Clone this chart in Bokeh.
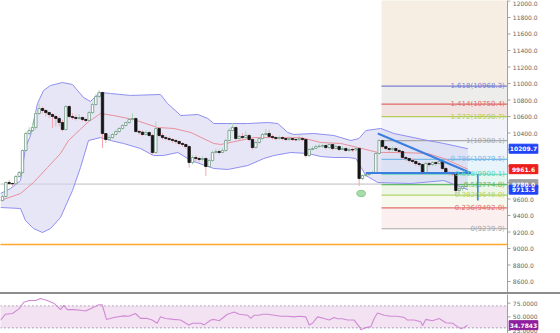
from bokeh.plotting import figure
from bokeh.models import Range1d, Div
from bokeh.layouts import column
from bokeh.embed import file_html
from bokeh.resources import INLINE
from bokeh.core.properties import value

# ---------------- data ----------------
first_open = 9582
closes = [9630, 9800, 9788, 9785, 9873, 9921, 10188, 10394, 10430, 10467,
          10636, 10697, 10673, 10648, 10624, 10600, 10576, 10527, 10442, 10721,
          10600, 10588, 10576, 10588, 10564, 10552, 10648, 10745, 10842, 10891,
          10394, 10321, 10345, 10382, 10418, 10455, 10491, 10527, 10564, 10576,
          10418, 10410, 10382, 10406, 10370, 10164, 10455, 10370, 10345, 10333,
          10321, 10309, 10297, 10273, 10261, 10236, 10042, 10103, 10091, 10079,
          10091, 9994, 10067, 10164, 10176, 10164, 10188, 10309, 10430, 10467,
          10333, 10358, 10345, 10370, 10321, 10224, 10285, 10333, 10382, 10394,
          10358, 10345, 10333, 10345, 10333, 10321, 10333, 10321, 10318, 10333,
          10321, 10127, 10200, 10212, 10236, 10240, 10248, 10224, 10261, 10212,
          10236, 10200, 10212, 10188, 10200, 10195, 10212, 9848, 9885, 9897,
          9909, 9921, 10152, 10309, 10236, 10212, 10200, 10212, 10188, 10176,
          10103, 10091, 10067, 10055, 10030, 10018, 9909, 10030, 10018, 10042,
          10030, 10055, 9970, 9921, 9909, 9905, 9703, 9727, 9752, 9780]
highs = [9650, 9815, 9830, 9800, 9890, 9940, 10200, 10420, 10470, 10520,
         10660, 10760, 10720, 10690, 10660, 10640, 10620, 10600, 10560, 10740,
         10740, 10640, 10620, 10630, 10600, 10580, 10670, 10770, 10870, 10920,
         10900, 10400, 10380, 10400, 10440, 10470, 10510, 10540, 10580, 10640,
         10590, 10440, 10430, 10430, 10420, 10390, 10540, 10470, 10400, 10370,
         10360, 10340, 10330, 10310, 10290, 10270, 10250, 10130, 10130, 10110,
         10120, 10110, 10090, 10190, 10210, 10200, 10220, 10330, 10460, 10520,
         10480, 10380, 10400, 10420, 10390, 10340, 10300, 10350, 10400, 10450,
         10440, 10380, 10360, 10370, 10360, 10350, 10360, 10350, 10350, 10390,
         10350, 10340, 10220, 10240, 10260, 10270, 10270, 10260, 10290, 10270,
         10260, 10250, 10240, 10230, 10220, 10220, 10240, 10230, 9900, 9920,
         9930, 9940, 10170, 10330, 10320, 10250, 10230, 10240, 10230, 10210,
         10190, 10120, 10100, 10090, 10070, 10050, 10030, 10050, 10050, 10060,
         10060, 10090, 10070, 9990, 9940, 9930, 9920, 9750, 9770, 9800]
lows = [9570, 9620, 9770, 9760, 9775, 9860, 9905, 10170, 10360, 10410,
        10440, 10620, 10640, 10600, 10580, 10460, 10480, 10480, 10420, 10430,
        10580, 10560, 10550, 10560, 10540, 10530, 10540, 10630, 10730, 10830,
        10220, 10280, 10300, 10330, 10370, 10400, 10440, 10480, 10510, 10550,
        10400, 10380, 10360, 10370, 10350, 10140, 10150, 10350, 10320, 10310,
        10300, 10280, 10270, 10250, 10230, 10210, 9980, 10020, 10060, 10050,
        10060, 9880, 9980, 10050, 10150, 10140, 10160, 10170, 10300, 10420,
        10310, 10320, 10320, 10340, 10300, 10200, 10210, 10270, 10320, 10370,
        10340, 10320, 10310, 10320, 10310, 10300, 10300, 10300, 10300, 10300,
        10300, 10100, 10110, 10190, 10210, 10220, 10220, 10200, 10210, 10190,
        10200, 10180, 10190, 10170, 10170, 10170, 10190, 9760, 9830, 9870,
        9880, 9900, 9910, 10140, 10210, 10190, 10170, 10180, 10160, 10150,
        10080, 10060, 10040, 10030, 10000, 9990, 9890, 9890, 9990, 10000,
        10000, 10020, 9950, 9900, 9880, 9880, 9640, 9640, 9700, 9740]
opens = [first_open] + closes[:-1]
idx = list(range(len(closes)))
assert len(closes) == len(highs) == len(lows)

# Bollinger bands (candle index, price)
bb_upper_x = [-0.6, 2.4, 5.4, 6.9, 8.4, 10.5, 12.3, 14.4, 18.0, 21.0, 24.3, 26.4, 27.9, 29.4,
              32.4, 38.4, 47.4, 49.5, 53.5, 58.6, 61.6, 63.4, 67.6, 73.6, 79.6, 82.6, 85.6,
              87.4, 93.4, 99.4, 104.5, 106.9, 109.0, 113.5, 117.4, 127.6, 132.4, 139.6]
bb_upper = [9667, 9727, 9824, 10224, 10370, 10758, 10915, 10976, 11012, 10988, 10830, 10782,
            10842, 10891, 10879, 10855, 10867, 10758, 10612, 10624, 10576, 10515, 10515, 10515,
            10527, 10515, 10406, 10382, 10394, 10370, 10309, 10333, 10430, 10455, 10394, 10309,
            10273, 10209.7]
bb_mid_x = [-0.6, 5.4, 9.3, 13.5, 17.4, 19.8, 25.5, 29.4, 33.3, 39.3, 46.5, 51.4, 56.5,
            63.4, 65.5, 75.4, 83.5, 89.5, 95.5, 101.5, 106.6, 112.6, 119.5, 127.6, 132.4, 139.6]
bb_mid = [9582, 9667, 9800, 9982, 10152, 10309, 10527, 10636, 10612, 10564, 10467, 10455,
          10406, 10273, 10261, 10345, 10345, 10345, 10285, 10273, 10224, 10164, 10164, 10152,
          10091, 9961.6]
bb_lower_x = [-0.6, 5.4, 6.9, 9.3, 12.0, 14.4, 17.4, 21.0, 23.4, 25.8, 29.4, 32.4, 36.3, 41.4,
              45.3, 48.3, 52.6, 56.5, 63.4, 67.6, 73.6, 78.4, 81.4, 86.5, 91.6, 95.5, 99.4,
              103.6, 106.0, 109.0, 112.6, 122.5, 132.4, 139.6]
bb_lower = [9497, 9485, 9339, 9242, 9194, 9242, 9376, 9703, 9982, 10309, 10345, 10309, 10273,
            10212, 10127, 10127, 10164, 10067, 9970, 9958, 10006, 10091, 10127, 10164, 10152,
            10115, 10103, 10103, 10091, 9885, 9800, 9788, 9824, 9713.5]
assert len(bb_upper_x) == len(bb_upper) and len(bb_mid_x) == len(bb_mid) and len(bb_lower_x) == len(bb_lower)

# RSI
rsi_x = [-0.6, 0.9, 3, 5, 6.4, 8, 10, 11.4, 13.4, 15.4, 17.4, 18.4, 19.4, 21.4, 23.4, 24.9,
         26.4, 28.9, 29.9, 31.2, 33.4, 36.4, 37.9, 39.9, 41.4, 43.4, 44.9, 46.4, 47.4, 48.9,
         51.4, 53.4, 55.9, 57, 59.5, 60.5, 62.5, 63.5, 65, 67.5, 69.5, 71, 73.5, 74.5, 75.5,
         77, 78, 79.5, 81.5, 83.5, 85.5, 87.5, 89, 91, 92, 93, 94.5, 96.5, 98, 99.5, 100.5,
         102, 103.5, 105.5, 107, 107.5, 108.5, 110.5, 111.5, 112.5, 114.5, 116.5, 118.5,
         120.5, 121.5, 123.5, 125.5, 126, 127, 129, 131, 133, 135, 136.5, 137.5, 138.5, 139.5]
rsi = [44.1, 54.8, 56.1, 65, 76.8, 79.8, 79.8, 83.4, 79.8, 75, 63.2, 70.9, 63.2, 63.2, 62,
       60.7, 65, 72.1, 72.1, 45.3, 48.9, 51.8, 51.2, 56.1, 47.1, 47.1, 44.1, 38.2, 50, 47.1,
       45.3, 44.1, 35.2, 38.2, 38.2, 35.2, 44.1, 45.3, 42.9, 54.8, 58.9, 54.8, 53, 47.1, 53,
       53, 54.8, 54.8, 53, 51.2, 51.2, 50, 51.2, 50, 35.2, 38.2, 50, 47.1, 44.1, 48.9, 46.4,
       46.4, 44.1, 44.1, 32.1, 26.2, 29.3, 32.1, 47.1, 57.1, 53, 51.2, 51.2, 48.9, 44.1,
       44.1, 41.1, 33.9, 45.3, 42.9, 47.1, 39.3, 38.2, 32.1, 28, 30.4, 34.7843]
assert len(rsi_x) == len(rsi)
rsi_levels = [30, 70]
rsi_ticks = [25, 50, 75]

# Fibonacci extension tool
fib_ratios = ["1.618", "1.414", "1.272", "1", "0.786", "0.618", "0.5", "0.382", "0.236", "0"]
fib_prices = [10968.3, 10750.4, 10598.7, 10308.1, 10079.5, 9900.1, 9774.8, 9648.0, 9492.0, 9239.9]
fib_line_colors = ["#7b7fd4", "#e06a6a", "#b3cc55", "#a8a8a8", "#7ab8e6", "#5fd4b4", "#62bb66",
                   "#b2d468", "#e56f6f", "#a8a8a8"]
fib_fill_colors = ["#f6eee2", "#edeeeb", "#f2e3e3", "#f2f2fa", "#eff3fa", "#e8f4fb", "#e6f6f0",
                   "#eef7e7", "#f8f9ee", "#fcefef"]
fib_start = 113.7

# other drawings
tri_x0 = [112.6, 109.0]
tri_y0 = [10394, 9915]
tri_x1 = [140.5, 140.5]
tri_y1 = [9915, 9915]
meas_x = [142.6]
meas_top = [9900]
meas_bottom = [9582]
marker_x = [107.6]
marker_y = [9667]
orange_level = 9048
price_ticks = [8600, 8800, 9000, 9200, 9400, 9600, 9800, 10000, 10200, 10400, 10600,
               10800, 11000, 11200, 11400, 11600, 11800, 12000]

# ---------------- geometry / style ----------------
X_START = -0.6
AXIS_X = 151.5          # right edge of the plotting area (price scale starts here)
X_FULL_END = 167.4      # right edge of the window
Y_BOTTOM, Y_TOP = 8467, 12006
FONT = "DejaVu Sans"
AXIS_COLOR = "#a0a0a0"
TICK_LEN = 0.9
LABEL_GAP = 1.6
TAG_CX = 4.8
TAG_W = 8.6


def price_scale(fig, ticks, labels, y_lo, y_hi):
    """Draw the right-hand price scale with glyphs (labels are real text)."""
    fig.quad(left=AXIS_X, right=X_FULL_END + 5, bottom=y_lo - 1000, top=y_hi + 1000,
             fill_color="white", line_color=None)
    fig.segment(x0=[AXIS_X], x1=[AXIS_X], y0=[y_lo - 1000], y1=[y_hi + 1000],
                line_color=AXIS_COLOR, line_width=1)
    fig.segment(x0=AXIS_X, x1=AXIS_X + TICK_LEN, y0=ticks, y1=ticks,
                line_color=AXIS_COLOR, line_width=1)
    # keep a label that sits on the top edge fully inside the window
    offs = [3 if (y_hi - t) < 0.01 * (y_hi - y_lo) else 0 for t in ticks]
    fig.text(x=[AXIS_X + LABEL_GAP] * len(ticks), y=ticks, text=labels, text_color="#666666",
             text_font_size="6px", text_align="left", text_baseline="middle",
             y_offset=offs, text_font=value(FONT))


def tags(fig, ys, texts, colors):
    fig.rect(x=[AXIS_X + TAG_CX] * len(ys), y=ys, width=TAG_W, height=9, height_units="screen",
             fill_color=colors, line_color=colors)
    fig.text(x=[AXIS_X + TAG_CX] * len(ys), y=ys, text=texts, text_color="white",
             text_font_size="6px", text_align="center", text_baseline="middle",
             text_font_style="bold", text_font=value(FONT))


def bare_figure(h, y_lo, y_hi, x_range=None):
    f = figure(width=560, height=h,
               x_range=x_range if x_range is not None else Range1d(X_START, X_FULL_END),
               y_range=Range1d(y_lo, y_hi), output_backend="svg", toolbar_location=None,
               x_axis_location=None, y_axis_location=None, min_border=0,
               background_fill_color="white", border_fill_color="white")
    f.outline_line_color = None
    f.xgrid.visible = False
    f.ygrid.visible = False
    return f


# ---------------- main price chart ----------------
p = bare_figure(292, Y_BOTTOM, Y_TOP)

# fib fills
fill_tops = [Y_TOP + 500] + fib_prices[:-1]
p.quad(left=fib_start, right=AXIS_X, bottom=fib_prices, top=fill_tops,
       fill_color=fib_fill_colors, line_color=None)

# horizontal reference lines
p.segment(x0=[X_START - 1], x1=[AXIS_X], y0=[orange_level], y1=[orange_level],
          line_color="#ffa62b", line_width=1.6)
p.segment(x0=[X_START - 1], x1=[AXIS_X], y0=[closes[-1]], y1=[closes[-1]],
          line_color="#d9d9d9", line_width=1.6)

# bollinger band
patch_x = bb_upper_x + bb_lower_x[::-1]
patch_y = bb_upper + bb_lower[::-1]
p.patch(patch_x, patch_y, fill_color="#d4d4f0", fill_alpha=0.58, line_color=None)

# fib lines
p.segment(x0=fib_start, x1=AXIS_X, y0=fib_prices, y1=fib_prices,
          line_color=fib_line_colors, line_width=1.2)

p.line(bb_upper_x, bb_upper, line_color="#8f8ff2", line_width=1)
p.line(bb_lower_x, bb_lower, line_color="#8f8ff2", line_width=1)
p.line(bb_mid_x, bb_mid, line_color="#e8909a", line_width=1)

# candles
bull = [c >= o for o, c in zip(opens, closes)]
wick_col = ["#a9d8b6" if b else "#f2a7b1" for b in bull]
p.segment(x0=idx, x1=idx, y0=lows, y1=highs, line_color=wick_col, line_width=1)
body_bot = [min(o, c) for o, c in zip(opens, closes)]
body_top = [max(o, c) for o, c in zip(opens, closes)]
fills = ["#ffffff" if b else "#141414" for b in bull]
lines = ["#6d9683" if b else "#141414" for b in bull]
p.vbar(x=idx, width=0.72, bottom=body_bot, top=body_top, fill_color=fills, line_color=lines,
       line_width=0.8)

# triangle, measure, marker
p.segment(x0=tri_x0, y0=tri_y0, x1=tri_x1, y1=tri_y1, line_color="#3a7fe0", line_width=2)
p.segment(x0=meas_x, x1=meas_x, y0=meas_top, y1=meas_bottom, line_color="#3a7fe0", line_width=1.6)
p.ellipse(x=marker_x, y=marker_y, width=2.6, height=75, fill_color="#a8dcaa",
          line_color="#86c98a", line_width=1)

# fib labels
fib_labels = ["%s(%.1f)" % (r, v) for r, v in zip(fib_ratios, fib_prices)]
p.text(x=[AXIS_X - 0.8] * len(fib_prices), y=fib_prices, text=fib_labels,
       text_color=fib_line_colors, text_align="right", text_baseline="middle",
       text_font_size="7px", text_font=value(FONT))

# price scale and tags
price_scale(p, price_ticks, ["%.1f" % t for t in price_ticks], Y_BOTTOM, Y_TOP)
tag_vals = [bb_upper[-1], bb_mid[-1], closes[-1], bb_lower[-1]]
tags(p, tag_vals, ["%.1f" % v for v in tag_vals], ["#1f43f5", "#ee1c1c", "#9e9e9e", "#1f43f5"])

# ---------------- separator ----------------
sep = Div(width=560, height=2, margin=0, styles={"background-color": "#8d8d8d"})

# ---------------- RSI panel ----------------
R_LO, R_HI = 19.5, 90.9
r = bare_figure(39, R_LO, R_HI, x_range=p.x_range)
r.quad(left=X_START - 5, right=AXIS_X, bottom=rsi_levels[0], top=rsi_levels[1],
       fill_color="#f2e2f2", line_color=None)
r.segment(x0=X_START - 5, x1=AXIS_X, y0=rsi_levels, y1=rsi_levels, line_color="#c4b4c8",
          line_width=1.4, line_dash="2 2")
r.line(rsi_x, rsi, line_color="#d08ad4", line_width=1.1)
price_scale(r, rsi_ticks, ["%.4f" % t for t in rsi_ticks], R_LO, R_HI)
tags(r, [rsi[-1]], ["%.4f" % rsi[-1]], ["#8e1f9c"])

layout = column(p, sep, r, spacing=0)
open("out.html", "w").write(file_html(layout, INLINE))
